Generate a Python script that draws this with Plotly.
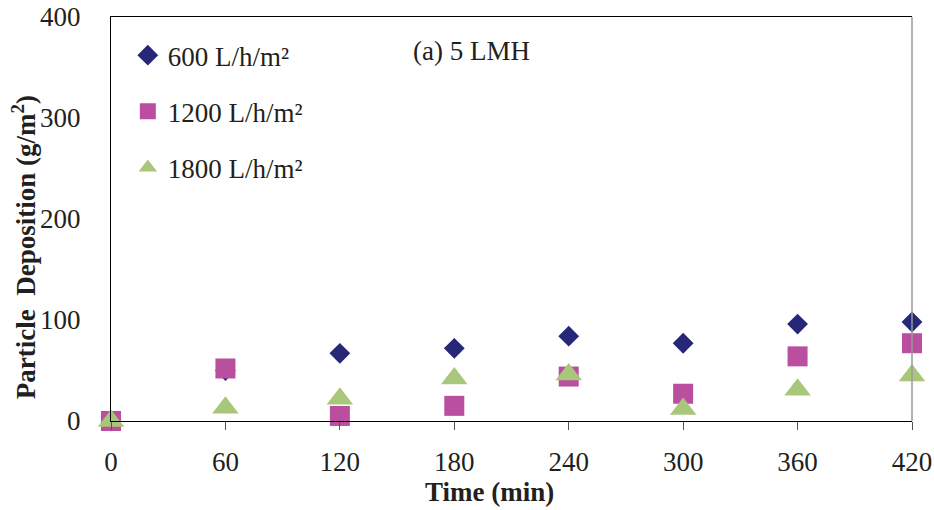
import plotly.graph_objects as go

# Sampling times (min)
time_min = [0, 60, 120, 180, 240, 300, 360, 420]

# Particle deposition (g/m²) for each cumulative permeate volume
dep_600 = [0, 50, 67, 72, 84, 77, 96, 98]
dep_1200 = [0, 52, 5, 15, 44, 27, 64, 77]
dep_1800 = [0, 13, 22, 42, 46, 12, 31, 45]

series_names = ["600 L/h/m²", "1200 L/h/m²", "1800 L/h/m²"]
x_ticks = [0, 60, 120, 180, 240, 300, 360, 420]
y_ticks = [0, 100, 200, 300, 400]

FONT = "Liberation Serif"
FS = 27
TXT = "#231f20"

fig = go.Figure()
styles = [
    (dep_600, "diamond", "#272777", 16),
    (dep_1200, "square", "#BB4F9F", 20),
    (dep_1800, "triangle-up", "#A8C77A", 23),
]
for i, (vals, sym, col, sz) in enumerate(styles):
    fig.add_trace(go.Scatter(
        x=time_min, y=vals, mode="markers", name=series_names[i],
        legendgroup=f"g{i}",
        marker=dict(symbol=sym, color=col, size=sz, line=dict(width=0)),
        cliponaxis=False,
    ))

fig.update_layout(
    width=934, height=510,
    margin=dict(l=111, r=22, t=17, b=89),
    paper_bgcolor="white", plot_bgcolor="white",
    font=dict(family=FONT, size=FS, color=TXT),
    legend=dict(
        x=0.021, y=0.965, xanchor="left", yanchor="top",
        bgcolor="rgba(0,0,0,0)", tracegroupgap=18,
        font=dict(family=FONT, size=FS, color=TXT),
        itemwidth=30,
    ),
    xaxis=dict(
        range=[0, 420], tickvals=x_ticks, ticktext=[str(v) for v in x_ticks],
        showgrid=False, zeroline=False, automargin=False,
        showline=True, linecolor="black", linewidth=1.2, mirror=True,
        ticks="outside", ticklen=8, tickcolor="#555", tickwidth=1,
        ticklabelstandoff=8,
        tickfont=dict(family=FONT, size=FS),
    ),
    yaxis=dict(
        range=[0, 400], tickvals=y_ticks, showgrid=False, zeroline=False,
        automargin=False,
        showline=True, linecolor="black", linewidth=1.2,
        ticks="", ticklabelstandoff=24,
        tickfont=dict(family=FONT, size=FS),
    ),
    shapes=[dict(type="line", xref="paper", yref="paper", x0=1, x1=1, y0=0, y1=1,
                 line=dict(color="#9a9a9a", width=1.5))],
    annotations=[
        dict(text="(a) 5 LMH", xref="paper", yref="paper",
             x=0.375, y=0.915, xanchor="left", yanchor="middle",
             showarrow=False, font=dict(family=FONT, size=FS, color=TXT)),
        # axis titles
        dict(text="<b>Time (min)</b>", xref="paper", yref="paper",
             x=0.473, y=0, yshift=-71, xanchor="center", yanchor="middle",
             showarrow=False, font=dict(family=FONT, size=FS, color=TXT)),
        dict(text="<b>Particle  Deposition (g/m<sup>2</sup>)</b>", xref="paper", yref="paper",
             x=0, xshift=-87, y=0.43, xanchor="center", yanchor="middle",
             textangle=-90, showarrow=False, font=dict(family=FONT, size=FS, color=TXT)),
    ],
)

fig.write_html("out.html")
